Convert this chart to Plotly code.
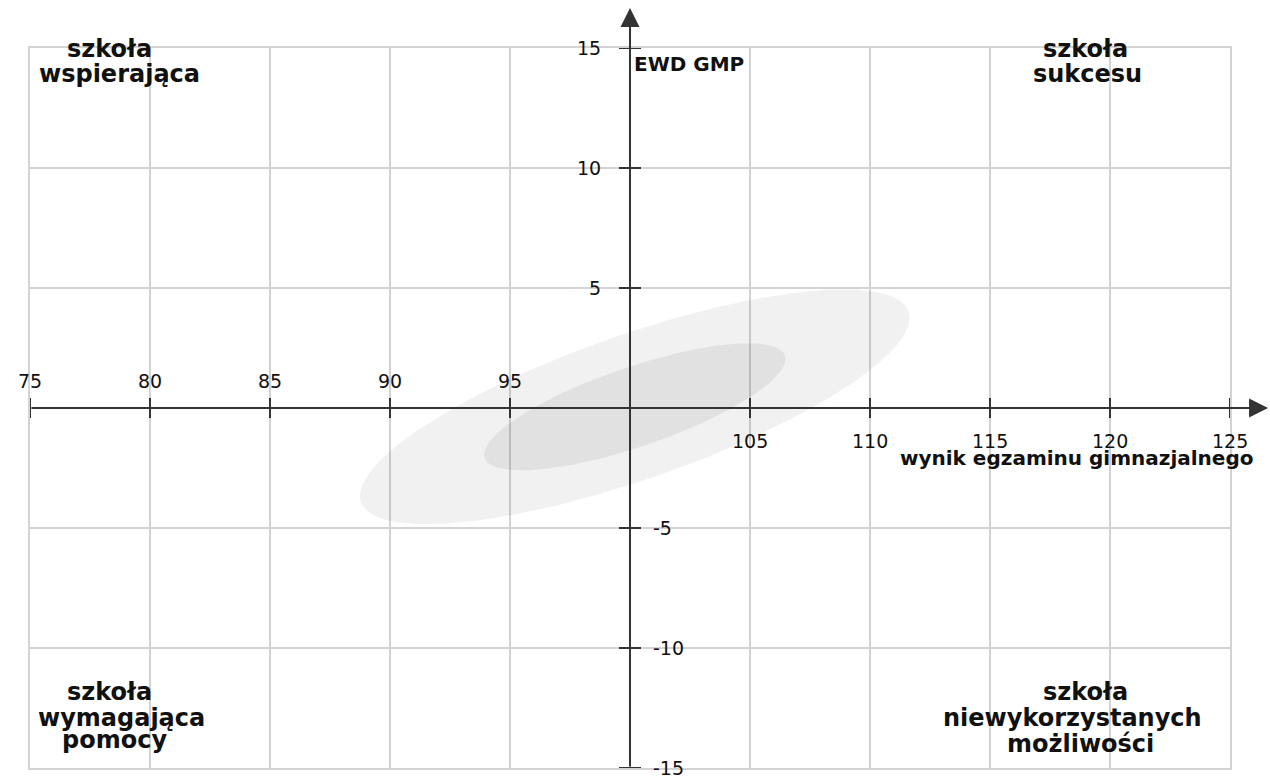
import numpy as np
import plotly.graph_objects as go

# Axis extents and tick values
x_range = [75, 125]
y_range = [-15, 15]
x_ticks = [75, 80, 85, 90, 95, 105, 110, 115, 120, 125]
y_ticks = [15, 10, 5, -5, -10, -15]
x_origin = 100          # where the vertical axis crosses
y_origin = 0            # where the horizontal axis crosses

# Confidence ellipses (centre, semi-axes, rotation in degrees)
ellipse_center = (100.2, 0.05)
ellipse_outer = dict(a=12.08, b=3.02, angle=19.2, color="rgba(0,0,0,0.055)")
ellipse_inner = dict(a=6.61, b=1.66, angle=18.8, color="rgba(0,0,0,0.062)")

# Quadrant captions: (text, x, y)
quadrant_lines = [
    ("szkoła", 78.33, 14.94), ("wspierająca", 78.71, 13.90),
    ("szkoła", 118.96, 14.94), ("sukcesu", 119.08, 13.90),
    ("szkoła", 78.33, -11.85), ("wymagająca", 78.83, -12.90), ("pomocy", 78.54, -13.85),
    ("szkoła", 118.96, -11.85), ("niewykorzystanych", 118.42, -12.90), ("możliwości", 118.75, -13.98),
]
x_title = ("wynik egzaminu gimnazjalnego", 118.6, -2.08)
y_title = ("EWD GMP", 100.08, 14.35)

AXIS = "#333333"
GRID = "#d3d3d3"
FONT = "DejaVu Sans"

fig = go.Figure()


def ellipse_path(cx, cy, a, b, angle):
    t = np.linspace(0, 2 * np.pi, 200)
    th = np.deg2rad(angle)
    ex = a * np.cos(t)
    ey = b * np.sin(t)
    return cx + ex * np.cos(th) - ey * np.sin(th), cy + ex * np.sin(th) + ey * np.cos(th)


for e in (ellipse_outer, ellipse_inner):
    ex, ey = ellipse_path(ellipse_center[0], ellipse_center[1], e["a"], e["b"], e["angle"])
    fig.add_trace(go.Scatter(x=ex, y=ey, mode="lines", fill="toself",
                             fillcolor=e["color"], line=dict(width=0),
                             hoverinfo="skip", showlegend=False))

shapes = []
annotations = []

# Tick marks crossing the central axes
for xv in x_ticks:
    shapes.append(dict(type="line", xref="x", yref="y", ysizemode="pixel", yanchor=y_origin,
                       x0=xv, x1=xv, y0=-10, y1=10, line=dict(color=AXIS, width=2)))
for yv in y_ticks:
    shapes.append(dict(type="line", xref="x", yref="y", xsizemode="pixel", xanchor=x_origin,
                       y0=yv, y1=yv, x0=-11, x1=11, line=dict(color=AXIS, width=2)))

# Central axes with arrowheads (run past the plotting box)
annotations.append(dict(xref="paper", yref="paper", x=1.0317, y=0.5, ax=-1238, ay=0,
                        axref="pixel", ayref="pixel", showarrow=True, arrowhead=2,
                        arrowsize=1.9, arrowwidth=2, arrowcolor=AXIS, text=""))
annotations.append(dict(xref="paper", yref="paper", x=0.5, y=1.0556, ax=0, ay=760,
                        axref="pixel", ayref="pixel", showarrow=True, arrowhead=2,
                        arrowsize=1.9, arrowwidth=2, arrowcolor=AXIS, text=""))

tick_font = dict(family=FONT, size=19, color="#111111")
for xv in x_ticks:
    above = xv < x_origin
    annotations.append(dict(x=xv, y=y_origin, xref="x", yref="y", text=str(xv),
                            showarrow=False, font=tick_font, xanchor="center",
                            yanchor="middle", yshift=27 if above else -33))
for yv in y_ticks:
    left = yv > y_origin
    annotations.append(dict(x=x_origin, y=yv, xref="x", yref="y", text=str(yv),
                            showarrow=False, font=tick_font,
                            xanchor="right" if left else "left", yanchor="middle",
                            xshift=-27 if left else 21))

title_font = dict(family=FONT, size=20, color="#111111", weight="bold")
annotations.append(dict(x=x_title[1], y=x_title[2], xref="x", yref="y", text=x_title[0],
                        showarrow=False, font=title_font, xanchor="center", yanchor="middle"))
annotations.append(dict(x=y_title[1], y=y_title[2], xref="x", yref="y", text=y_title[0],
                        showarrow=False, font=title_font, xanchor="left", yanchor="middle"))

quad_font = dict(family=FONT, size=24, color="#111111", weight="bold")
for text, xv, yv in quadrant_lines:
    annotations.append(dict(x=xv, y=yv, xref="x", yref="y", text=text, showarrow=False,
                            font=quad_font, xanchor="center", yanchor="middle"))

axis_common = dict(showgrid=True, gridcolor=GRID, gridwidth=2, dtick=5, tick0=0,
                   showline=True, mirror=True, linecolor=GRID, linewidth=2,
                   showticklabels=False, ticks="", zeroline=False, fixedrange=True)

fig.update_layout(
    width=1270, height=780,
    margin=dict(l=30, r=40, t=48, b=12),
    paper_bgcolor="white", plot_bgcolor="white",
    xaxis=dict(range=x_range, **axis_common),
    yaxis=dict(range=y_range, **axis_common),
    shapes=shapes, annotations=annotations,
    showlegend=False,
)

fig.write_html("out.html")
